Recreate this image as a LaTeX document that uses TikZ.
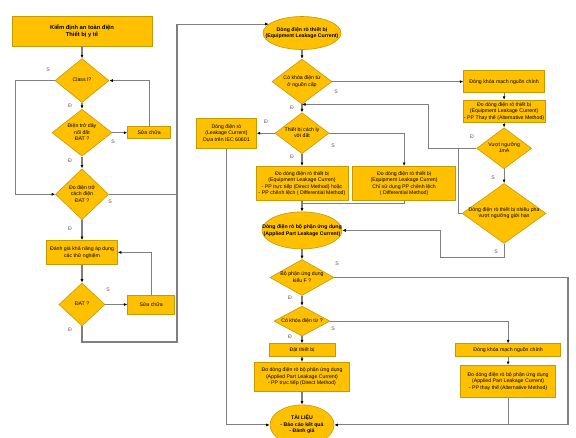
\documentclass[tikz,border=0pt]{standalone}
\usepackage{fontspec}
\setmainfont{Liberation Sans}
\usetikzlibrary{arrows.meta,positioning,shapes.geometric,calc}
\definecolor{boxgold}{HTML}{FFC000}
\definecolor{edgegold}{HTML}{C49A00}
\definecolor{wiregray}{HTML}{7F7F7F}
\definecolor{lblgray}{HTML}{5A5A5A}
\newcommand{\ztxt}[1]{\makebox[0pt]{\begin{tabular}{@{}c@{}}#1\end{tabular}}}

\begin{document}
\begin{tikzpicture}[
  x=1pt, y=-1pt,
  block/.style={draw=edgegold, fill=boxgold, rectangle, line width=0.6pt,
                inner sep=1pt, align=center,
                font=\fontsize{5.2}{6.5}\selectfont},
  check/.style={draw=edgegold, fill=boxgold, diamond, line width=0.6pt,
                inner sep=0pt, font=\fontsize{5.2}{6.5}\selectfont},
  term/.style={draw=edgegold, fill=boxgold, ellipse, line width=0.6pt,
               inner sep=0pt, font=\fontsize{5.2}{6.6}\selectfont\bfseries},
  arr/.style={-{Latex[length=3.5pt,width=3pt,color=black]}, draw=wiregray, line width=1.1pt},
  wire/.style={draw=wiregray, line width=1.1pt},
  lbl/.style={font=\fontsize{5.2}{6}\selectfont, text=lblgray, inner sep=0pt}
]
  \useasboundingbox (0,0) rectangle (576,437);
  \fill[white] (0,0) rectangle (576,437);

  %% Left column: insulation / earth checks
  \node[block, minimum width=140pt, minimum height=30pt,
        font=\fontsize{5.8}{7.4}\selectfont\bfseries] (title) at (82,31)
    {Kiểm định an toàn điện\\Thiết bị y tế};
  \node[check, minimum width=54pt, minimum height=44pt, below=12pt of title] (cls)
    {\ztxt{Class I?}};
  \node[check, minimum width=60pt, minimum height=47pt, below=6pt of cls] (gnd)
    {\ztxt{Điện trở dây\\nối đất\\ĐAT ?}};
  \node[block, minimum width=43pt, minimum height=12pt, right=15pt of gnd] (fixa)
    {Sửa chữa};
  \node[check, minimum width=53pt, minimum height=51pt, below=12pt of gnd] (ins)
    {\ztxt{Đo điện trở\\cách điện\\ĐAT ?}};
  \node[block, minimum width=71pt, minimum height=24pt, below=20pt of ins] (eval)
    {Đánh giá khả năng áp dụng\\các thử nghiệm};
  \node[check, minimum width=46pt, minimum height=43pt, below=18pt of eval] (dat)
    {\ztxt{ĐAT ?}};
  \node[block, minimum width=47pt, minimum height=19pt, right=22pt of dat] (fixb)
    {Sửa chữa};

  %% Middle column: equipment and applied part leakage
  \node[term, minimum width=78pt, minimum height=33pt] (eq) at (302,33)
    {\ztxt{Dòng điện rò thiết bị\\(Equipment Leakage Current)}};
  \node[check, minimum width=60pt, minimum height=45pt, below=9pt of eq] (lock)
    {\ztxt{Có khóa điện từ\\ở nguồn cấp}};
  \node[check, minimum width=54pt, minimum height=41pt, below=8pt of lock] (iso)
    {\ztxt{Thiết bị cách ly\\với đất}};
  \node[block, minimum width=60pt, minimum height=30pt, left=18pt of iso] (leak)
    {Dòng điện rò\\(Leakage Current)\\Dựa trên IEC 60601};
  \node[block, minimum width=92pt, minimum height=34pt, below=12pt of iso] (eqdir)
    {Đo dòng điện rò thiết bị\\(Equipment Leakage Curren)\\- PP trực tiếp (Direct Method) hoặc\\- PP chênh lệch ( Differential Method)};
  \node[block, minimum width=103pt, minimum height=34pt, right=4pt of eqdir] (eqdiff)
    {Đo dòng điện rò thiết bị\\(Equipment Leakage Curren)\\Chỉ sử dụng PP chênh lệch\\( Differential Method)};
  \node[term, minimum width=80pt, minimum height=37pt, below=11pt of eqdir] (ap)
    {\ztxt{Dòng điện rò bộ phận ứng dụng\\(Applied Part Leakage Current)}};
  \node[check, minimum width=64pt, minimum height=36pt, below=10pt of ap] (typef)
    {\ztxt{Bộ phận ứng dụng\\kiểu F ?}};
  \node[check, minimum width=56pt, minimum height=30pt, below=10pt of typef] (lockb)
    {\ztxt{Có khóa điện từ ?}};
  \node[block, minimum width=66pt, minimum height=13pt, below=7pt of lockb] (place)
    {Đặt thiết bị};
  \node[block, minimum width=95pt, minimum height=29pt, below=5pt of place] (apdir)
    {Đo dòng điện rò bộ phận ứng dụng\\(Applied Part Leakage Current)\\- PP trực tiếp (Direct Method)};
  \node[term, minimum width=64pt, minimum height=40pt, below=13pt of apdir] (doc)
    {\ztxt{TÀI LIỆU\\- Báo cáo kết quả\\- Đánh giá}};

  %% Right column: alternative method
  \node[block, minimum width=81pt, minimum height=22pt, right=131pt of lock] (closea)
    {Đóng khóa mạch nguồn chính};
  \node[block, minimum width=81pt, minimum height=22pt, below=7pt of closea] (eqalt)
    {Đo dòng điện rò thiết bị\\(Equipment Leakage Current)\\- PP Thay thế (Alternative Method)};
  \node[check, minimum width=55pt, minimum height=41pt, below=5pt of eqalt] (over)
    {\ztxt{Vượt ngưỡng\\1mA}};
  \node[check, minimum width=84pt, minimum height=60pt, below=14pt of over] (multi)
    {\ztxt{Dòng điện rò thiết bị nhiều pha\\vượt ngưỡng giới hạn}};
  \node[block, minimum width=105pt, minimum height=13pt, right=120pt of place] (closeb)
    {Đóng khóa mạch nguồn chính};
  \node[block, minimum width=95pt, minimum height=32pt, below=8pt of closeb] (apalt)
    {Đo dòng điện rò bộ phận ứng dụng\\(Applied Part Leakage Current)\\- PP thay thế (Alternative Method)};

  %% Bus points
  \coordinate (lbus) at (177,342);
  \coordinate (rbus) at (568,275);
  \coordinate (vj) at ([xshift=-18pt]over.west);
  \coordinate (mj) at ([xshift=98pt]ap.east);

  %% Arrows
  \draw[arr] (title) -- (cls);
  \draw[arr] (cls) -- (gnd);
  \draw[arr] (gnd) -- (fixa);
  \draw[arr] (fixa.north) |- (cls.east);
  \draw[arr] (cls.west) -- ++(-39,0) |- (ins.west);
  \draw[arr] (gnd) -- (ins);
  \draw[arr] (ins) -- (eval);
  \draw[wire] (ins.east) -- (ins.east -| lbus);
  \draw[arr] (eval) -- (dat);
  \draw[arr] (dat) -- (fixb);
  \draw[arr] (fixb.north) |- (eval.east);
  \draw[arr] (dat.south) |- (lbus) |- (eq.165);

  \draw[arr] (eq) -- (lock);
  \draw[arr] (lock) -- (iso);
  \draw[arr] (lock) -- (closea);
  \draw[arr] (closea) -- (eqalt);
  \draw[arr] (eqalt) -- (over);
  \draw[arr] (over) -- (multi);
  \draw[arr] (over.west) -- ++(-48,0) |- (lock.south);
  \draw[wire] (multi.west) -| (vj);
  \draw[arr] (multi.south) -- ++(0,14) -| (mj) -- (ap.east);
  \draw[arr] (iso) -- (leak);
  \draw[arr] (iso.east) -| (eqdiff.north);
  \draw[arr] (iso) -- (eqdir);
  \draw[arr] (eqdir) -- (ap);
  \draw[wire] (eqdiff.south) |- ([yshift=-3pt]eqdir.south);
  \draw[arr] (ap) -- (typef);
  \draw[arr] (typef.east) -- (typef.east -| rbus) |- (doc.east);
  \draw[arr] (typef) -- (lockb);
  \draw[arr] (lockb.east) -| (closeb.north);
  \draw[arr] (lockb) -- (place);
  \draw[arr] (place) -- (apdir);
  \draw[arr] (apdir) -- (doc);
  \draw[arr] (closeb) -- (apalt);
  \draw[wire] (apalt.south) -- (apalt.south |- doc.east);
  \draw[arr] (leak.south) |- (doc.west);

  %% S / D labels
  \node[lbl] (s1) at (48,70) {S};
  \node[lbl] (s2) at (113,142) {S};
  \node[lbl] (s3) at (110,202) {S};
  \node[lbl] (s4) at (108,290) {S};
  \node[lbl] (s5) at (336,92) {S};
  \node[lbl] (s6) at (333,146) {S};
  \node[lbl] (s7) at (493,178) {S};
  \node[lbl] (s8) at (496,252) {S};
  \node[lbl] (s9) at (337,264) {S};
  \node[lbl] (s10) at (333,329) {S};
  \node[lbl] (d1) at (70,106) {Đ};
  \node[lbl] (d2) at (70,161) {Đ};
  \node[lbl] (d3) at (70,229) {Đ};
  \node[lbl] (d4) at (70,330) {Đ};
  \node[lbl] (d5) at (292,108) {Đ};
  \node[lbl] (d6) at (266,122) {Đ};
  \node[lbl] (d7) at (292,157) {Đ};
  \node[lbl] (d8) at (472,137) {Đ};
  \node[lbl] (d9) at (290,298) {Đ};
  \node[lbl] (d10) at (290,337) {Đ};
\end{tikzpicture}
\end{document}
